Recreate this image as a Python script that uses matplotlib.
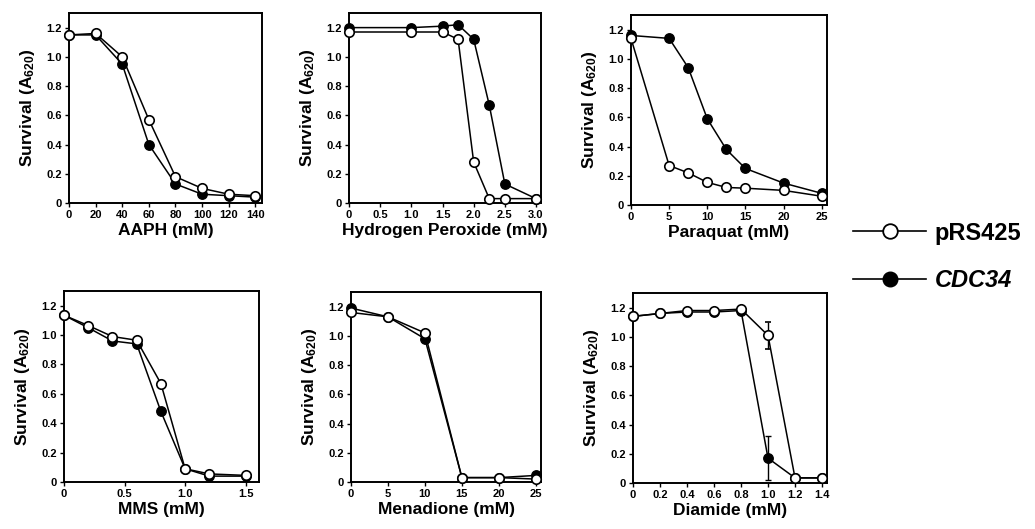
import numpy as np
import matplotlib
matplotlib.use("Agg")
import matplotlib.pyplot as plt
from matplotlib.lines import Line2D

plt.rcParams['font.family'] = ['Liberation Sans', 'DejaVu Sans']
plt.rcParams['font.weight'] = 'bold'
plt.rcParams['mathtext.fontset'] = 'custom'
plt.rcParams['mathtext.rm'] = 'Liberation Sans:bold'
plt.rcParams['mathtext.it'] = 'Liberation Sans:bold:italic'
plt.rcParams['mathtext.bf'] = 'Liberation Sans:bold'

# AAPH
aaph_x = [0, 20, 40, 60, 80, 100, 120, 140]
aaph_prs = [1.15, 1.16, 1.00, 0.57, 0.18, 0.10, 0.06, 0.05]
aaph_cdc = [1.15, 1.15, 0.95, 0.40, 0.13, 0.06, 0.05, 0.04]

# Hydrogen peroxide
h2o2_x = [0, 1.0, 1.5, 1.75, 2.0, 2.25, 2.5, 3.0]
h2o2_prs = [1.17, 1.17, 1.17, 1.12, 0.28, 0.03, 0.03, 0.03]
h2o2_cdc = [1.20, 1.20, 1.21, 1.22, 1.12, 0.67, 0.13, 0.03]

# Paraquat
para_x = [0, 5, 7.5, 10, 12.5, 15, 20, 25]
para_prs = [1.14, 0.27, 0.22, 0.155, 0.12, 0.115, 0.10, 0.06]
para_cdc = [1.16, 1.14, 0.94, 0.59, 0.38, 0.25, 0.15, 0.08]

# MMS
mms_x = [0, 0.2, 0.4, 0.6, 0.8, 1.0, 1.2, 1.5]
mms_prs = [1.135, 1.065, 0.99, 0.965, 0.67, 0.09, 0.055, 0.045]
mms_cdc = [1.135, 1.05, 0.96, 0.94, 0.48, 0.09, 0.04, 0.04]

# Menadione
mena_x = [0, 5, 10, 15, 20, 25]
mena_prs = [1.16, 1.13, 1.02, 0.03, 0.03, 0.02]
mena_cdc = [1.19, 1.13, 0.98, 0.03, 0.03, 0.045]

# Diamide
diam_x = [0, 0.2, 0.4, 0.6, 0.8, 1.0, 1.2, 1.4]
diam_prs = [1.14, 1.16, 1.18, 1.18, 1.19, 1.01, 0.035, 0.035]
diam_cdc = [1.14, 1.16, 1.17, 1.17, 1.18, 0.17, 0.035, 0.035]
diam_prs_err = [0, 0, 0, 0, 0, 0.09, 0, 0]
diam_cdc_err = [0, 0, 0, 0, 0, 0.15, 0, 0]

y_ticks = [0, 0.2, 0.4, 0.6, 0.8, 1.0, 1.2]
y_tick_labels = ["0", "0.2", "0.4", "0.6", "0.8", "1.0", "1.2"]

panels = [
    dict(x=aaph_x, prs=aaph_prs, cdc=aaph_cdc, label="AAPH (mM)",
         xticks=[0, 20, 40, 60, 80, 100, 120, 140],
         xticklabels=["0", "20", "40", "60", "80", "100", "120", "140"],
         xlim=145, box=(69, 262, 13, 203)),
    dict(x=h2o2_x, prs=h2o2_prs, cdc=h2o2_cdc, label="Hydrogen Peroxide (mM)",
         xticks=[0, 0.5, 1.0, 1.5, 2.0, 2.5, 3.0],
         xticklabels=["0", "0.5", "1.0", "1.5", "2.0", "2.5", "3.0"],
         xlim=3.08, box=(349, 541, 13, 203)),
    dict(x=para_x, prs=para_prs, cdc=para_cdc, label="Paraquat (mM)",
         xticks=[0, 5, 10, 15, 20, 25],
         xticklabels=["0", "5", "10", "15", "20", "25"],
         xlim=25.7, box=(631, 827, 15, 205)),
    dict(x=mms_x, prs=mms_prs, cdc=mms_cdc, label="MMS (mM)",
         xticks=[0, 0.5, 1.0, 1.5],
         xticklabels=["0", "0.5", "1.0", "1.5"],
         xlim=1.61, box=(64, 259, 291, 482)),
    dict(x=mena_x, prs=mena_prs, cdc=mena_cdc, label="Menadione (mM)",
         xticks=[0, 5, 10, 15, 20, 25],
         xticklabels=["0", "5", "10", "15", "20", "25"],
         xlim=25.7, box=(351, 541, 292, 482)),
    dict(x=diam_x, prs=diam_prs, cdc=diam_cdc, label="Diamide (mM)",
         xticks=[0, 0.2, 0.4, 0.6, 0.8, 1.0, 1.2, 1.4],
         xticklabels=["0", "0.2", "0.4", "0.6", "0.8", "1.0", "1.2", "1.4"],
         xlim=1.437, box=(633, 827, 293, 483),
         prs_err=diam_prs_err, cdc_err=diam_cdc_err),
]

W, H = 1035, 529
fig = plt.figure(figsize=(W / 100, H / 100), dpi=100)

for p in panels:
    l, r, t, b = p["box"]
    ax = fig.add_axes([l / W, 1 - b / H, (r - l) / W, (b - t) / H])
    if "cdc_err" in p:
        ax.errorbar(p["x"], p["cdc"], yerr=p["cdc_err"], color="black", lw=1.1,
                    marker="o", ms=6.8, mfc="black", mec="black", capsize=2.5,
                    elinewidth=1, clip_on=False, zorder=3)
        ax.errorbar(p["x"], p["prs"], yerr=p["prs_err"], color="black", lw=1.1,
                    marker="o", ms=6.8, mfc="white", mec="black", mew=1.2,
                    capsize=2.5, elinewidth=1, clip_on=False, zorder=4)
    else:
        ax.plot(p["x"], p["cdc"], color="black", lw=1.1, marker="o", ms=6.8,
                mfc="black", mec="black", clip_on=False, zorder=3)
        ax.plot(p["x"], p["prs"], color="black", lw=1.1, marker="o", ms=6.8,
                mfc="white", mec="black", mew=1.2, clip_on=False, zorder=4)
    ax.set_xlim(0, p["xlim"])
    ax.set_ylim(0, 1.3)
    ax.set_xticks(p["xticks"])
    ax.set_xticklabels(p["xticklabels"])
    ax.set_yticks(y_ticks)
    ax.set_yticklabels(y_tick_labels)
    ax.tick_params(direction="out", length=3, width=1, labelsize=8, pad=2)
    for s in ax.spines.values():
        s.set_linewidth(1.4)
    ax.set_xlabel(p["label"], fontsize=12.5, fontweight="bold", labelpad=2)
    ax.set_ylabel(r"Survival (A$_{620}$)", fontsize=12.5, fontweight="bold", labelpad=7)

handles = [
    Line2D([], [], color="black", lw=1.2, marker="o", ms=10.5, mfc="white", mec="black", mew=1.3),
    Line2D([], [], color="black", lw=1.2, marker="o", ms=10.5, mfc="black", mec="black"),
]
leg = fig.legend(handles, ["pRS425", "CDC34"], loc="center left",
                 bbox_to_anchor=(853 / W, 1 - 257 / H), frameon=False,
                 borderpad=0, borderaxespad=0,
                 handlelength=3.1, handletextpad=0.35, labelspacing=1.05,
                 prop=dict(size=17, weight="bold"))
leg.get_texts()[1].set_fontstyle("italic")

fig.savefig("out.png", dpi=100)
